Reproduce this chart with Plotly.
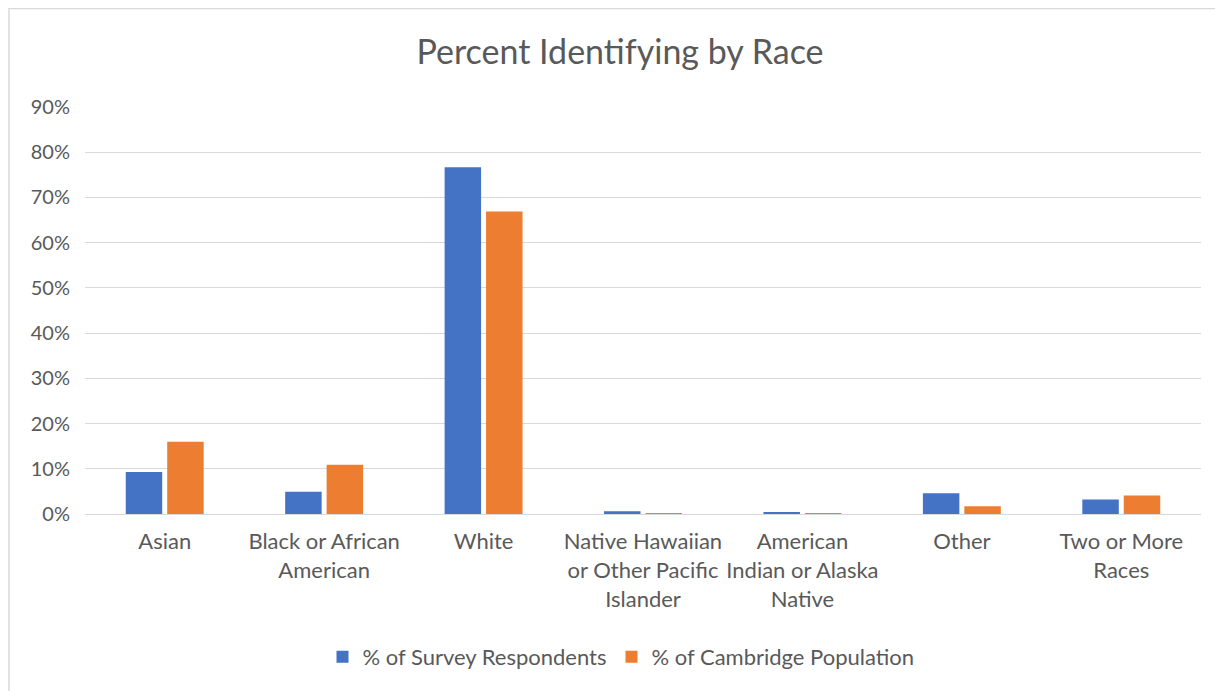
import plotly.graph_objects as go

# Race categories (x axis)
categories = [
    "Asian",
    "Black or African<br>American",
    "White",
    "Native Hawaiian<br>or Other Pacific<br>Islander",
    "American<br>Indian or Alaska<br>Native",
    "Other",
    "Two or More<br>Races",
]

# Percent values
survey_respondents = [9.3, 4.9, 76.7, 0.6, 0.3, 4.6, 3.2]
cambridge_population = [16.0, 10.9, 66.9, 0.1, 0.2, 1.7, 4.1]

series_names = ["% of Survey Respondents", "% of Cambridge Population"]
series_colors = ["#4472C4", "#ED7D31"]

font_family = "Lato, 'Open Sans', sans-serif"
text_color = "#595959"

# plot area geometry (figure pixels)
W, H = 1223, 691
L, R, T, B = 77, 30, 99, 185
PW, PH = W - L - R, H - T - B

fig = go.Figure()

for name, values, color in zip(series_names,
                               [survey_respondents, cambridge_population],
                               series_colors):
    fig.add_trace(
        go.Bar(
            x=categories,
            y=values,
            name=name,
            marker=dict(color=color, line=dict(width=0)),
        )
    )

fig.update_layout(
    width=W,
    height=H,
    barmode="group",
    bargap=0.48,
    bargroupgap=0.12,
    paper_bgcolor="white",
    plot_bgcolor="white",
    font=dict(family=font_family, color=text_color, size=22),
    title=dict(
        text="Percent Identifying by Race",
        x=(612 - L) / PW,
        xref="paper",
        xanchor="center",
        y=1 - 44 / H,
        yanchor="middle",
        font=dict(size=34, color=text_color, family=font_family),
    ),
    margin=dict(l=L, r=R, t=T, b=B),
    legend=dict(
        orientation="h",
        x=(613 - L) / PW,
        xanchor="center",
        y=-(649 - (H - B)) / PH,
        yanchor="middle",
        font=dict(size=22, color=text_color),
        itemwidth=30,
    ),
)

fig.update_yaxes(
    range=[0, 90],
    dtick=10,
    ticksuffix="%",
    showgrid=True,
    gridcolor="#D9D9D9",
    gridwidth=1,
    zeroline=False,
    ticks="",
    ticklabelstandoff=14,
    tickfont=dict(size=20, color=text_color),
)

fig.update_xaxes(
    showline=True,
    linecolor="#D9D9D9",
    linewidth=1,
    ticks="",
    tickangle=0,
    ticklabelstandoff=8,
    tickfont=dict(size=22, color=text_color),
)

# Outer chart border (only left and top edges fall inside the view)
fig.add_shape(
    type="rect",
    xref="paper", yref="paper",
    x0=-(L - 1) / PW, x1=1 + (R + 20) / PW,
    y0=-(B + 20) / PH, y1=1 + (T - 0.5) / PH,
    line=dict(color="#D9D9D9", width=1.5),
    fillcolor="rgba(0,0,0,0)",
    layer="below",
)

fig.write_html("out.html")
